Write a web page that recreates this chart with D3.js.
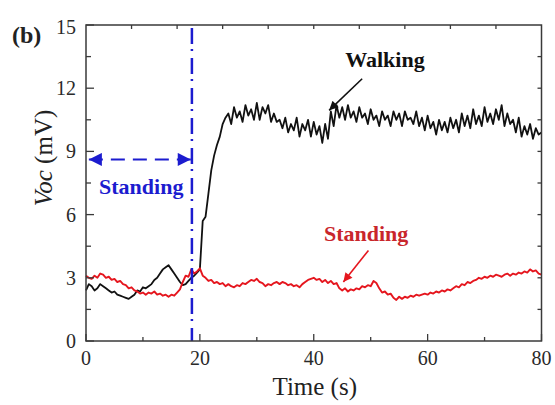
<!DOCTYPE html>
<html lang="en">
<head>
    <meta charset="UTF-8">
    <title>Voc vs time</title>
    <script src="https://cdn.jsdelivr.net/npm/d3@7"></script>
    <style>
        body { margin: 0; background: #fff; }
        text { font-family: "Liberation Serif", "Times New Roman", serif; }
    </style>
</head>
<body>
    <div id="graphic"></div>

    <script>
        // sample times (s), shared by both traces
        var time = [
            0, 0.5, 1, 1.5, 2, 2.5, 3, 3.5, 4, 4.5,
            5, 5.5, 6, 6.5, 7, 7.5, 8, 8.5, 9, 9.5,
            10, 10.5, 11, 11.5, 12, 12.5, 13, 13.5, 14, 14.5,
            15, 15.5, 16, 16.5, 17, 17.5, 18, 18.5, 19, 19.5,
            20, 20.5, 21, 21.5, 22, 22.5, 23, 23.5, 24, 24.5,
            25, 25.5, 26, 26.5, 27, 27.5, 28, 28.5, 29, 29.5,
            30, 30.5, 31, 31.5, 32, 32.5, 33, 33.5, 34, 34.5,
            35, 35.5, 36, 36.5, 37, 37.5, 38, 38.5, 39, 39.5,
            40, 40.5, 41, 41.5, 42, 42.5, 43, 43.5, 44, 44.5,
            45, 45.5, 46, 46.5, 47, 47.5, 48, 48.5, 49, 49.5,
            50, 50.5, 51, 51.5, 52, 52.5, 53, 53.5, 54, 54.5,
            55, 55.5, 56, 56.5, 57, 57.5, 58, 58.5, 59, 59.5,
            60, 60.5, 61, 61.5, 62, 62.5, 63, 63.5, 64, 64.5,
            65, 65.5, 66, 66.5, 67, 67.5, 68, 68.5, 69, 69.5,
            70, 70.5, 71, 71.5, 72, 72.5, 73, 73.5, 74, 74.5,
            75, 75.5, 76, 76.5, 77, 77.5, 78, 78.5, 79, 79.5,
            80
        ];

        // walking trace (mV)
        var walking = [
            2.4, 2.7, 2.6, 2.4, 2.5, 2.7, 2.6, 2.5, 2.4, 2.3,
            2.35, 2.2, 2.15, 2.1, 2.05, 2.0, 2.1, 2.2, 2.4, 2.35,
            2.55, 2.5, 2.6, 2.7, 2.9, 3.0, 3.2, 3.4, 3.5, 3.6,
            3.4, 3.2, 3.0, 2.8, 2.65, 2.7, 2.85, 3.0, 3.1, 3.25,
            3.4, 5.7, 5.9, 7.0, 8.1, 8.8, 9.3, 9.7, 10.3, 10.6,
            10.8, 10.3, 11.1, 10.6, 10.9, 10.4, 11.2, 10.7, 11.0, 10.5,
            11.3, 10.5, 11.1, 10.8, 11.2, 10.4, 10.8, 10.4, 10.5, 10.1,
            10.6, 9.9, 10.3, 10.0, 10.6, 9.7, 10.3, 10.0, 10.5, 9.7,
            10.4, 9.8, 10.2, 9.4, 10.3, 9.6, 10.9, 10.2, 11.2, 10.6,
            11.1, 10.5, 11.2, 10.6, 10.9, 10.4, 11.1, 10.6, 10.8, 10.3,
            11.0, 10.5, 10.7, 10.2, 10.9, 10.5, 10.7, 10.2, 10.9, 10.5,
            10.8, 10.2, 10.9, 10.5, 10.6, 10.3, 10.9, 10.2, 10.6, 10.0,
            10.7, 10.1, 10.4, 9.8, 10.5, 10.0, 10.4, 9.9, 10.6, 10.1,
            10.5, 9.9, 10.8, 10.2, 10.7, 10.1, 11.0, 10.3, 10.7, 10.2,
            11.1, 10.4, 10.8, 10.3, 11.0, 10.5, 11.2, 10.2, 10.8, 10.3,
            10.5, 9.9, 10.6, 9.7, 10.2, 9.8, 10.3, 9.6, 10.1, 9.8,
            9.9
        ];

        // standing trace (mV)
        var standing = [
            3.1, 3.0, 2.95, 3.1, 3.0, 3.2, 3.15, 3.0, 3.05, 2.9,
            2.95, 2.8, 2.85, 2.7, 2.65, 2.5, 2.55, 2.4, 2.35, 2.25,
            2.3, 2.2, 2.3, 2.25, 2.35, 2.2, 2.25, 2.15, 2.2, 2.1,
            2.2, 2.15, 2.3, 2.45, 2.8, 3.1, 3.05, 3.4, 3.2, 3.3,
            3.45, 3.1, 3.0, 2.85, 2.9, 2.75, 2.8, 2.7, 2.75, 2.6,
            2.7, 2.6, 2.55, 2.65, 2.6, 2.75, 2.7, 2.8, 2.9, 2.85,
            2.95, 2.8, 2.75, 2.6, 2.7, 2.65, 2.75, 2.8, 2.7, 2.8,
            2.75, 2.65, 2.7, 2.6, 2.65, 2.55, 2.7, 2.8, 2.9, 2.95,
            3.0, 2.9, 2.95, 2.8, 2.9, 2.75, 2.85, 2.7, 2.75, 2.5,
            2.4, 2.5, 2.35, 2.45, 2.4, 2.5, 2.45, 2.6, 2.55, 2.65,
            2.6, 2.85, 2.75, 2.5, 2.3, 2.35, 2.2, 2.25, 2.05, 1.95,
            2.1, 2.0, 2.1, 2.05, 2.15, 2.1, 2.2, 2.15, 2.2, 2.25,
            2.2, 2.3, 2.25, 2.35, 2.3, 2.4, 2.35, 2.45, 2.4, 2.5,
            2.6, 2.55, 2.7, 2.65, 2.8, 2.75, 2.85, 2.9, 3.0, 2.95,
            3.05, 3.0, 3.1, 3.05, 3.15, 3.1, 3.05, 3.15, 3.2, 3.1,
            3.2, 3.15, 3.25, 3.2, 3.3, 3.25, 3.4, 3.3, 3.35, 3.2,
            3.15
        ];

        var xTicks = [0, 20, 40, 60, 80];
        var xMinor = [10, 30, 50, 70];
        var xTopTicks = [8, 16, 24, 32, 40, 48, 56, 64, 72];
        var yTicks = [0, 3, 6, 9, 12, 15];
        var yMinor = [1.5, 4.5, 7.5, 10.5, 13.5];
        var yRight = [1.5, 3, 4.5, 6, 7.5, 9, 10.5, 12, 13.5];

        // onset of walking, and the standing-phase arrow (data units)
        var switchTime = 18.6;
        var phaseArrow = { t0: 0.5, t1: 18.4, v: 8.62 };
        var walkNote = { label: 'Walking', t: 52.5, v: 13.0, from: [48.5, 12.45], to: [42.7, 10.95] };
        var standNote = { label: 'Standing', t: 49.2, v: 4.75, from: [49.6, 4.3], to: [45.2, 2.8] };
        var phaseNote = { label: 'Standing', t: 9.7, v: 7.0 };

        var width = 555, height = 405;
        var margin = { left: 86, right: 13.5, top: 25, bottom: 64 };

        var svg = d3.select('#graphic').append('svg')
            .attr('width', width)
            .attr('height', height);

        var x = d3.scaleLinear().domain([0, 80]).range([margin.left, width - margin.right]);
        var y = d3.scaleLinear().domain([0, 15]).range([height - margin.bottom, margin.top]);

        var blue = '#1c1ccf';
        var red = '#e5161e';
        var axisColor = '#3a3a3a';

        var defs = svg.append('defs');
        function arrowMarker(id, color, w, h) {
            defs.append('marker')
                .attr('id', id)
                .attr('viewBox', '0 0 10 10')
                .attr('refX', 10).attr('refY', 5)
                .attr('markerUnits', 'userSpaceOnUse')
                .attr('markerWidth', w).attr('markerHeight', h)
                .attr('orient', 'auto-start-reverse')
                .append('path')
                .attr('d', 'M0,0 L10,5 L0,10 Z')
                .attr('fill', color);
        }
        arrowMarker('head-blue', blue, 15, 13);
        arrowMarker('head-black', '#111', 11, 9);
        arrowMarker('head-red', red, 11, 9);

        // traces
        var line = d3.line()
            .x(function (d, i) { return x(time[i]); })
            .y(function (d) { return y(d); });

        svg.append('path')
            .datum(walking)
            .attr('d', line)
            .attr('fill', 'none')
            .attr('stroke', '#111')
            .attr('stroke-width', 1.8)
            .attr('stroke-linejoin', 'round');

        svg.append('path')
            .datum(standing)
            .attr('d', line)
            .attr('fill', 'none')
            .attr('stroke', red)
            .attr('stroke-width', 1.9)
            .attr('stroke-linejoin', 'round');

        // vertical dash-dot marker
        svg.append('line')
            .attr('x1', x(switchTime)).attr('x2', x(switchTime))
            .attr('y1', y(15) + 3).attr('y2', y(0))
            .attr('stroke', blue)
            .attr('stroke-width', 2.5)
            .attr('stroke-dasharray', '16,5,2,7');

        // standing-phase double arrow
        svg.append('line')
            .attr('x1', x(phaseArrow.t0)).attr('x2', x(phaseArrow.t1))
            .attr('y1', y(phaseArrow.v)).attr('y2', y(phaseArrow.v))
            .attr('stroke', blue)
            .attr('stroke-width', 2)
            .attr('stroke-dasharray', '14,8')
            .attr('marker-start', 'url(#head-blue)')
            .attr('marker-end', 'url(#head-blue)');

        svg.append('text')
            .attr('x', x(phaseNote.t)).attr('y', y(phaseNote.v))
            .attr('text-anchor', 'middle')
            .attr('font-size', 22).attr('font-weight', 'bold')
            .attr('fill', blue)
            .text(phaseNote.label);

        // annotations with arrows
        [[walkNote, '#111', 'head-black', '#111'], [standNote, red, 'head-red', '#c9262b']].forEach(function (a) {
            var n = a[0];
            svg.append('line')
                .attr('x1', x(n.from[0])).attr('y1', y(n.from[1]))
                .attr('x2', x(n.to[0])).attr('y2', y(n.to[1]))
                .attr('stroke', a[1])
                .attr('stroke-width', 1.6)
                .attr('marker-end', 'url(#' + a[2] + ')');
            svg.append('text')
                .attr('x', x(n.t)).attr('y', y(n.v))
                .attr('text-anchor', 'middle')
                .attr('font-size', 22).attr('font-weight', 'bold')
                .attr('fill', a[3])
                .text(n.label);
        });

        // frame
        svg.append('rect')
            .attr('x', x(0)).attr('y', y(15))
            .attr('width', x(80) - x(0)).attr('height', y(0) - y(15))
            .attr('fill', 'none')
            .attr('stroke', axisColor)
            .attr('stroke-width', 1.5);

        // ticks, all pointing inward
        var g = svg.append('g').attr('stroke', axisColor).attr('stroke-width', 1.3);
        xTicks.forEach(function (t) {
            g.append('line').attr('x1', x(t)).attr('x2', x(t)).attr('y1', y(0)).attr('y2', y(0) - 7);
        });
        xMinor.forEach(function (t) {
            g.append('line').attr('x1', x(t)).attr('x2', x(t)).attr('y1', y(0)).attr('y2', y(0) - 4);
        });
        xTopTicks.forEach(function (t) {
            g.append('line').attr('x1', x(t)).attr('x2', x(t)).attr('y1', y(15)).attr('y2', y(15) + 4);
        });
        yTicks.forEach(function (v) {
            g.append('line').attr('x1', x(0)).attr('x2', x(0) + 8).attr('y1', y(v)).attr('y2', y(v));
        });
        yMinor.forEach(function (v) {
            g.append('line').attr('x1', x(0)).attr('x2', x(0) + 5).attr('y1', y(v)).attr('y2', y(v));
        });
        yRight.forEach(function (v) {
            g.append('line').attr('x1', x(80)).attr('x2', x(80) - 4).attr('y1', y(v)).attr('y2', y(v));
        });

        // tick labels
        svg.append('g').selectAll('text')
            .data(xTicks).join('text')
            .attr('x', function (d) { return x(d); })
            .attr('y', y(0) + 24)
            .attr('text-anchor', 'middle')
            .attr('font-size', 20)
            .attr('fill', '#2a2a2a')
            .text(function (d) { return d; });

        svg.append('g').selectAll('text')
            .data(yTicks).join('text')
            .attr('x', x(0) - 10)
            .attr('y', function (d) { return y(d) + (d === 15 ? 9 : 7); })
            .attr('text-anchor', 'end')
            .attr('font-size', 20)
            .attr('fill', '#2a2a2a')
            .text(function (d) { return d; });

        // axis titles
        svg.append('text')
            .attr('x', (x(0) + x(80)) / 2 + 1)
            .attr('y', 395)
            .attr('text-anchor', 'middle')
            .attr('font-size', 25)
            .attr('fill', '#222')
            .text('Time (s)');

        var yl = svg.append('text')
            .attr('transform', 'translate(52,' + 158 + ') rotate(-90)')
            .attr('text-anchor', 'middle')
            .attr('font-size', 25)
            .attr('fill', '#222');
        yl.append('tspan').attr('font-style', 'italic').text('Voc');
        yl.append('tspan').text(' (mV)');

        svg.append('text')
            .attr('x', 12).attr('y', 43)
            .attr('font-size', 24).attr('font-weight', 'bold')
            .attr('fill', '#222')
            .text('(b)');
    </script>
</body>
</html>
